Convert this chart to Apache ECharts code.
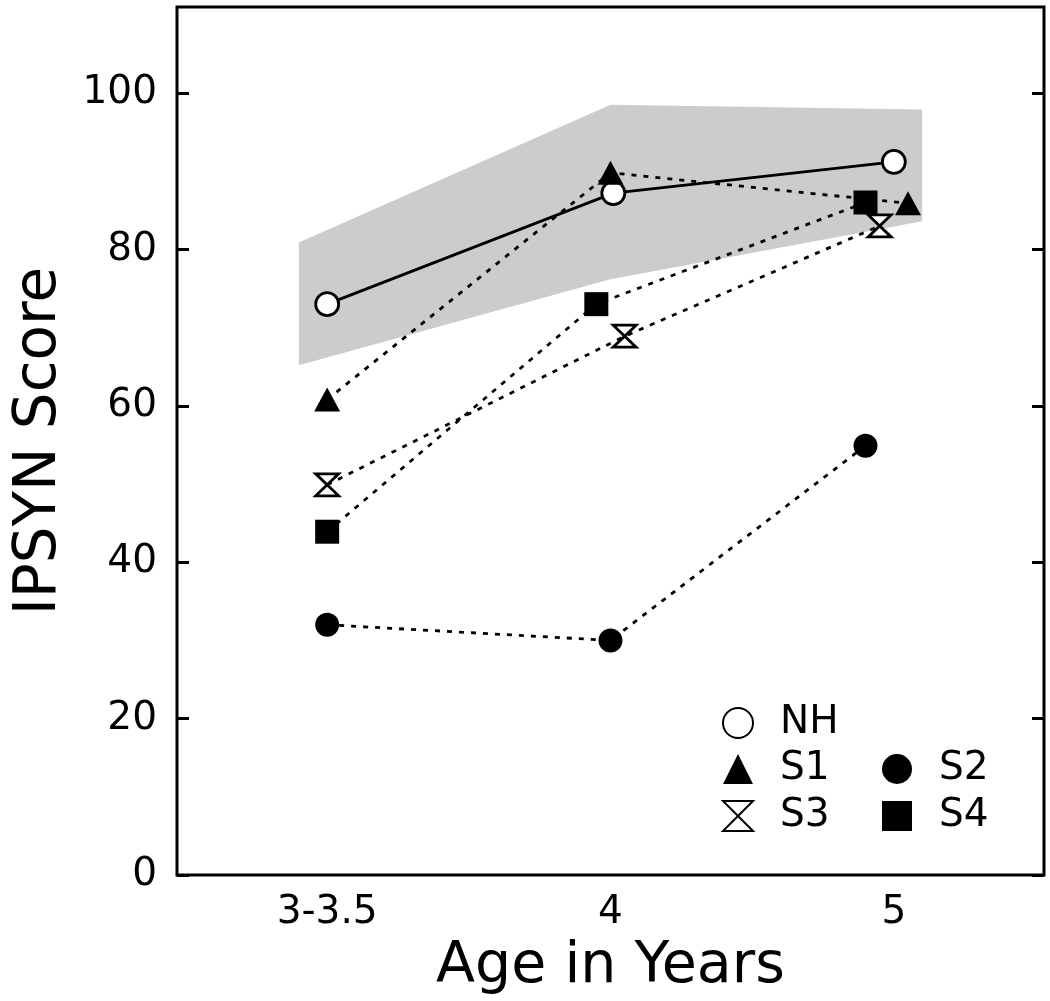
<!DOCTYPE html>
<html><head><meta charset="utf-8">
<script src="https://cdn.jsdelivr.net/npm/echarts@6/dist/echarts.min.js"></script>
<style>html,body{margin:0;padding:0;background:#fff}#c{width:1050px;height:1001px}</style>
</head><body><div id="c"></div>
<script>
// ---- data ----
const categories = ['3-3.5', '4', '5'];
const categoryPos = [1, 2, 3];
const yTicks = [0, 20, 40, 60, 80, 100];
const nhX = [1, 2.01, 3.0];   const nhY = [73.0, 87.2, 91.2];
const s1X = [1, 2.0, 3.05];   const s1Y = [60.8, 89.8, 85.9];
const s2X = [1, 2.0, 2.9];    const s2Y = [32.0, 30.0, 54.9];
const s3X = [1, 2.05, 2.95];  const s3Y = [49.9, 68.9, 83.0];
const s4X = [1, 1.95, 2.9];   const s4Y = [43.9, 73.0, 86.0];
const bandX = [0.9, 2.0, 3.1];
const bandUpper = [80.9, 98.5, 97.9];
const bandLower = [65.2, 76.2, 83.6];

const FONT = "'DejaVu Sans', 'Liberation Sans', sans-serif";
const hourglass = 'path://M0,0L10,0L0,10L10,10Z';
const zip = (xs, ys) => xs.map((x, i) => [x, ys[i]]);

function ptSeries(name, xs, ys, symbol, size, filled, dashed) {
  return {
    name, type: 'line', data: zip(xs, ys), symbol, symbolSize: size, symbolKeepAspect: false,
    showSymbol: true, z: 3,
    lineStyle: { color: '#000', width: 2.8, type: dashed ? [5, 7] : 'solid' },
    itemStyle: { color: filled ? '#000' : '#fff', borderColor: '#000', borderWidth: filled ? 0 : 2.8, opacity: 1 },
    emphasis: { disabled: true }
  };
}

const chart = echarts.init(document.getElementById('c'), null, { renderer: 'canvas' });
const legendText = { color: '#000', fontSize: 39, fontFamily: FONT, lineHeight: 40, padding: [0, 0, 0, 22] };
const common = { padding: 0, itemWidth: 30, itemHeight: 30, textStyle: legendText, selectedMode: false };
chart.setOption({
  animation: false,
  grid: { left: 177, right: 6, top: 7, bottom: 126, show: true, borderColor: '#000', borderWidth: 3, backgroundColor: 'transparent' },
  xAxis: {
    type: 'value', min: 0.47, max: 3.53,
    axisLine: { show: false }, axisTick: { show: false }, splitLine: { show: false },
    axisLabel: {
      customValues: categoryPos, margin: 18, color: '#000', fontSize: 39, fontFamily: FONT,
      formatter: v => { const i = categoryPos.indexOf(v); return i >= 0 ? categories[i] : ''; }
    },
    name: 'Age in Years', nameLocation: 'middle', nameGap: 64,
    nameTextStyle: { color: '#000', fontSize: 57, fontFamily: FONT }
  },
  yAxis: [{
    type: 'value', min: 0, max: 111, position: 'left',
    axisLine: { show: false }, splitLine: { show: false },
    axisTick: { show: true, inside: true, length: 12, customValues: yTicks, lineStyle: { color: '#000', width: 3 } },
    axisLabel: { customValues: yTicks, margin: 20, color: '#000', fontSize: 39, fontFamily: FONT },
    name: 'IPSYN Score', nameLocation: 'middle', nameGap: 108, nameRotate: 90,
    nameTextStyle: { color: '#000', fontSize: 58, fontFamily: FONT }
  }, {
    type: 'value', min: 0, max: 111, position: 'right',
    axisLine: { show: false }, splitLine: { show: false },
    axisTick: { show: true, inside: true, length: 12, customValues: yTicks, lineStyle: { color: '#000', width: 3 } },
    axisLabel: { show: false }
  }],
  legend: [
    Object.assign({ data: [{ name: 'NH', icon: 'circle' }], left: 722, top: 703 }, common),
    Object.assign({ data: [{ name: 'S1', icon: 'triangle' }, { name: 'S3', icon: hourglass }], orient: 'vertical', left: 722, top: 749, itemGap: 7 }, common),
    Object.assign({ data: [{ name: 'S2', icon: 'circle' }, { name: 'S4', icon: 'rect' }], orient: 'vertical', left: 882, top: 749, itemGap: 7 }, common)
  ],
  series: [
    {
      type: 'custom', name: 'band', silent: true, z: 1,
      data: [[bandX[0], bandUpper[0]]],
      renderItem: (params, api) => {
        const pts = bandX.map((x, i) => api.coord([x, bandUpper[i]]))
          .concat(bandX.map((x, i) => api.coord([x, bandLower[i]])).reverse());
        return { type: 'polygon', shape: { points: pts }, style: { fill: '#cccccc' } };
      }
    },
    ptSeries('NH', nhX, nhY, 'circle', 23, false, false),
    ptSeries('S1', s1X, s1Y, 'triangle', [26, 24], true, true),
    ptSeries('S2', s2X, s2Y, 'circle', 24, true, true),
    ptSeries('S3', s3X, s3Y, hourglass, [23, 22], false, true),
    ptSeries('S4', s4X, s4Y, 'rect', 24, true, true)
  ]
});
</script></body></html>
